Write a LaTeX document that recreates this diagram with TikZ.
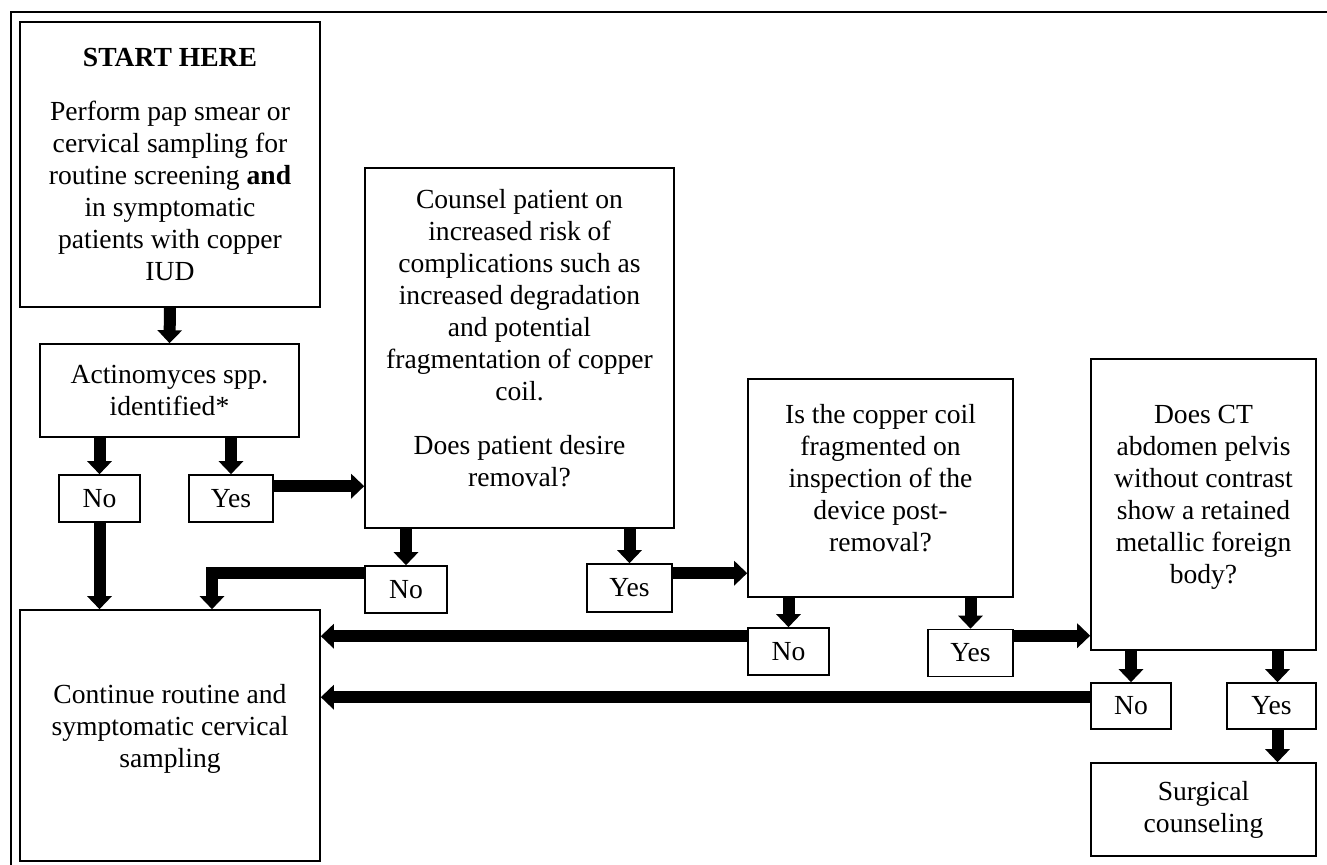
\documentclass[tikz,border=0pt]{standalone}
\usepackage{fontspec}
\setmainfont{Liberation Serif}
\usepackage{tikz}
\usetikzlibrary{arrows.meta,calc}
\newcommand{\lift}{\rule[-10pt]{0pt}{0pt}}
\tikzset{
  box/.style={draw, line width=0.8pt, align=center, inner sep=2pt,
    font=\fontsize{13.8}{16}\selectfont},
  flow/.style={line width=6pt, -{Triangle[width=12pt,length=6.5pt]}},
}
\begin{document}
\begin{tikzpicture}[x=0.5pt,y=-0.5pt]
\useasboundingbox (0,0) rectangle (1327,865);
\draw[line width=1.4pt] (11,12) rectangle (1360,900);

% boxes (centres in pixels)
\node[box, minimum width=150pt, minimum height=142.5pt] (start) at (170,164.5)
  {\textbf{START HERE}\\[11pt] Perform pap smear or\\ cervical sampling for\\
   routine screening \textbf{and}\\ in symptomatic\\ patients with copper\\ IUD};
\node[box, minimum width=129.5pt, minimum height=46.5pt] (actino) at (169.5,390.5)
  {Actinomyces spp.\\ identified*};
\node[box, minimum width=40.5pt, minimum height=23.5pt] (no1) at (99.5,498.5) {No};
\node[box, minimum width=42pt, minimum height=23.5pt] (yes1) at (231,498.5) {Yes};
\node[box, minimum width=150pt, minimum height=125.5pt] (cont) at (170,735.5)
  {Continue routine and\\ symptomatic cervical\\ sampling\lift};

\node[box, minimum width=154.5pt, minimum height=180pt] (counsel) at (519.5,348)
  {Counsel patient on\\ increased risk of\\ complications such as\\ increased degradation\\
   and potential\\ fragmentation of copper\\ coil.\\[11pt] Does patient desire\\ removal?\lift};
\node[box, minimum width=41pt, minimum height=23.5pt] (no2) at (406,589.5) {No};
\node[box, minimum width=42.5pt, minimum height=24pt] (yes2) at (629.5,588) {Yes};

\node[box, minimum width=132.5pt, minimum height=109pt] (frag) at (880.5,488)
  {Is the copper coil\\ fragmented on\\ inspection of the\\ device post-\\ removal?\lift};
\node[box, minimum width=40.5pt, minimum height=23.5pt] (no3) at (788.5,651.5) {No};
\node[box, minimum width=42.5pt, minimum height=23.5pt] (yes3) at (970.5,653) {Yes};

\node[box, minimum width=112.5pt, minimum height=145.5pt] (ct) at (1203.5,504.5)
  {Does CT\\ abdomen pelvis\\ without contrast\\ show a retained\\ metallic foreign\\ body?\lift};
\node[box, minimum width=40pt, minimum height=23pt] (no4) at (1131,706) {No};
\node[box, minimum width=44.5pt, minimum height=23pt] (yes4) at (1271.5,706) {Yes};
\node[box, minimum width=112.5pt, minimum height=46.5pt] (surg) at (1203.5,809.5)
  {Surgical\\ counseling};

% arrows
\draw[flow] (start.south) -- (actino.north);
\draw[flow] (no1.north |- actino.south) -- (no1.north);
\draw[flow] (yes1.north |- actino.south) -- (yes1.north);
\draw[flow] (no1.south) -- (no1.south |- cont.north);
\draw[flow] ([yshift=-6pt]yes1.north east) coordinate (y1) -- (y1 -| counsel.west);

\draw[flow] (no2.north |- counsel.south) -- (no2.north);
\draw[flow] (yes2.north |- counsel.south) -- (yes2.north);
\draw[flow] ([yshift=-4pt]no2.north west) -| ([xshift=21pt]cont.north);
\draw[flow] ([yshift=-5pt]yes2.north east) coordinate (y2) -- (y2 -| frag.west);

\draw[flow] (no3.north |- frag.south) -- (no3.north);
\draw[flow] (yes3.north |- frag.south) -- (yes3.north);
\draw[flow] ([yshift=-4.5pt]no3.north west) coordinate (n3) -- (n3 -| cont.east);
\draw[flow] ([yshift=-3.5pt]yes3.north east) coordinate (y3) -- (y3 -| ct.west);

\draw[flow] (no4.north |- ct.south) -- (no4.north);
\draw[flow] ([xshift=3pt]yes4.north |- ct.south) -- ([xshift=3pt]yes4.north);
\draw[flow] ([yshift=-7.5pt]no4.north west) coordinate (n4) -- (n4 -| cont.east);
\draw[flow] ([xshift=3pt]yes4.south) -- ([xshift=3pt]yes4.south |- surg.north);
\end{tikzpicture}
\end{document}
